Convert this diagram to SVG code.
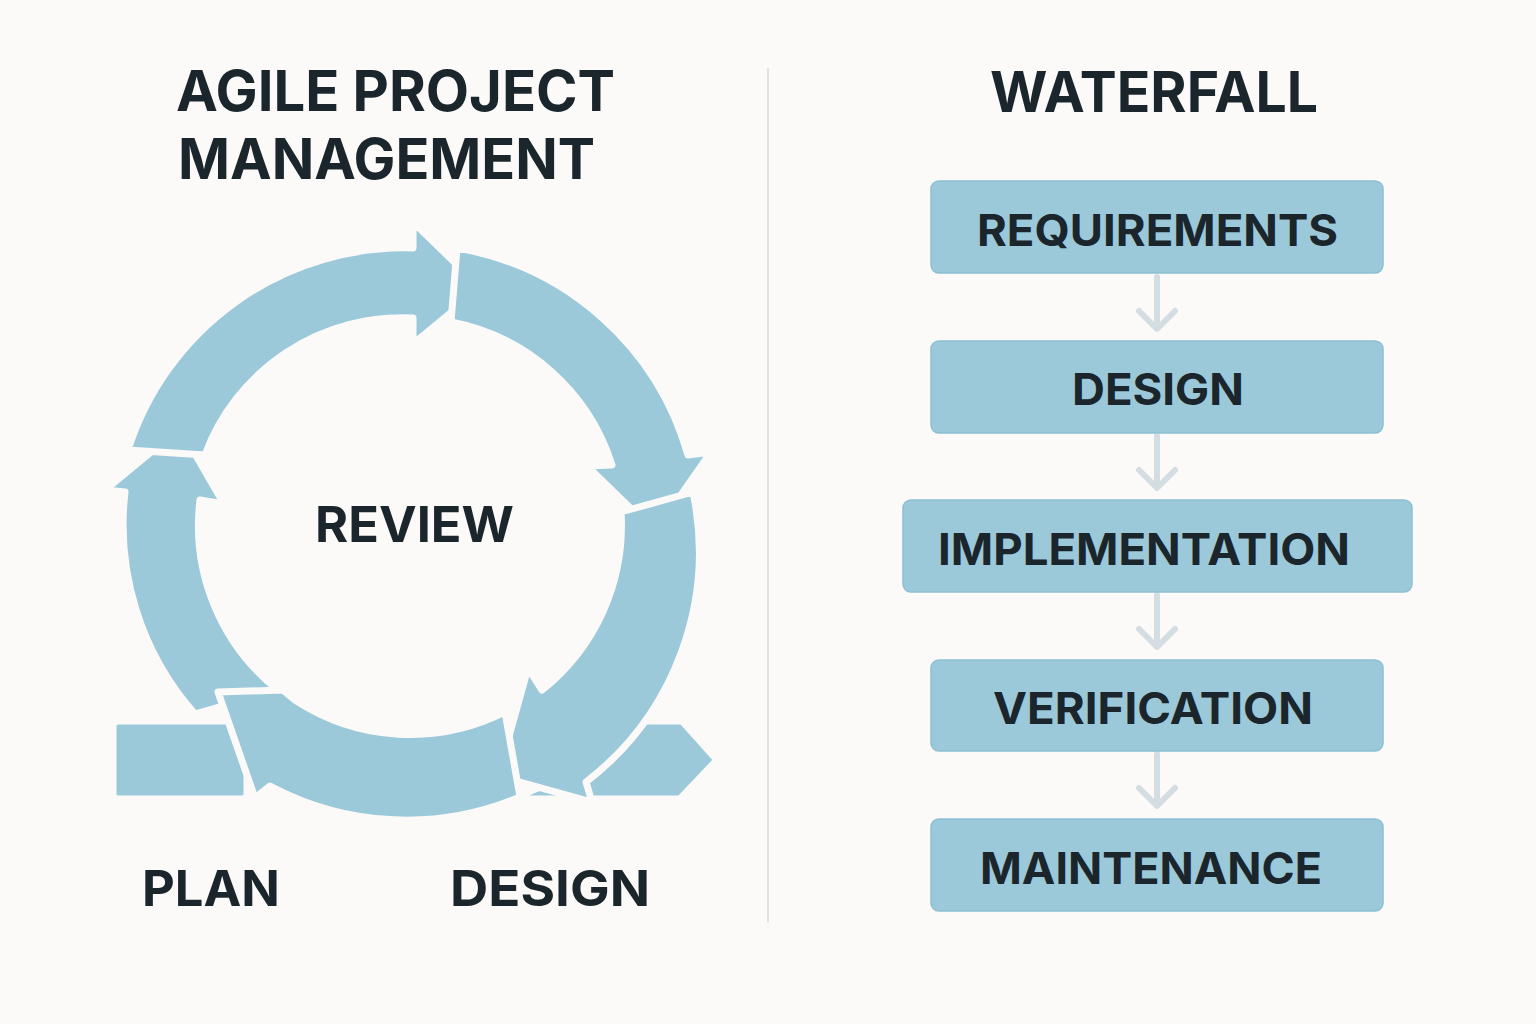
<svg xmlns="http://www.w3.org/2000/svg" width="1536" height="1024" viewBox="0 0 1536 1024">
<style>
.t{font-family:"Inter","Liberation Sans",sans-serif;font-weight:700;fill:#1b262c}
.a{fill:#9cc9da;stroke:#fbfaf8;stroke-width:7;stroke-linejoin:round}
.b{fill:#9cc9da;stroke:#8dbfd2;stroke-width:1.5}
.c{stroke:#d3dde2;stroke-width:6;fill:none;stroke-linecap:round;stroke-linejoin:round}
</style>
<rect width="1536" height="1024" fill="#fbfaf8"/>
<line x1="768" y1="68" x2="768" y2="922" stroke="#dde3e6" stroke-width="2"/>
<text class="t" x="176" y="111" font-size="56" textLength="439" lengthAdjust="spacingAndGlyphs">AGILE PROJECT</text>
<text class="t" x="178" y="179" font-size="56" textLength="417" lengthAdjust="spacingAndGlyphs">MANAGEMENT</text>
<text class="t" x="990" y="112" font-size="56" textLength="328" lengthAdjust="spacingAndGlyphs">WATERFALL</text>
<g id="agile-cycle">
<rect class="a" x="113" y="721" width="134" height="78" rx="5"/>
<path class="a" d="M512,799 L680,799 L717,760 L682,721 L640,721 L580,770 Z"/>
<path class="a" d="M195,714 A285,285 0 0 1 125,492 L105,490 L180,428 L224,504 L200,500 A210,210 0 0 0 278,690 Z"/>
<path class="a" d="M128,450 A290,290 0 0 1 413,248 L413,222 L481,288 L413,344 L413,318 A210,210 0 0 0 205,455 Z"/>
<path class="a" d="M457,248 A290,290 0 0 1 688,455 L711,452 L655,532 L587,466 L612,465 A210,210 0 0 0 451,322 Z"/>
<path class="a" d="M693,492 A290,290 0 0 1 586,782 L592,802 L498,776 L528,668 L542,690 A210,210 0 0 0 621,512 Z"/>
<path class="a" d="M505,712 A210,210 0 0 1 295,700 L283,690 L218,692 L255,798 L270,786 A290,290 0 0 0 520,797 Z"/>
</g>
<text class="t" x="315" y="542" font-size="50" textLength="199" lengthAdjust="spacingAndGlyphs">REVIEW</text>
<text class="t" x="142" y="906" font-size="50" textLength="138" lengthAdjust="spacingAndGlyphs">PLAN</text>
<text class="t" x="450" y="906" font-size="50" textLength="200" lengthAdjust="spacingAndGlyphs">DESIGN</text>
<g id="connectors">
<path class="c" d="M1157,277 V328 M1139,311 L1157,329 L1175,311"/>
<path class="c" d="M1157,436 V487 M1139,470 L1157,488 L1175,470"/>
<path class="c" d="M1157,595 V646 M1139,629 L1157,647 L1175,629"/>
<path class="c" d="M1157,754 V805 M1139,788 L1157,806 L1175,788"/>
</g>
<g id="requirements"><rect class="b" x="931" y="181" width="452" height="92" rx="8"/><text class="t" x="977" y="246" font-size="44" textLength="361" lengthAdjust="spacingAndGlyphs">REQUIREMENTS</text></g>
<g id="design"><rect class="b" x="931" y="341" width="452" height="92" rx="8"/><text class="t" x="1072" y="405" font-size="44" textLength="172" lengthAdjust="spacingAndGlyphs">DESIGN</text></g>
<g id="implementation"><rect class="b" x="903" y="500" width="509" height="92" rx="8"/><text class="t" x="938" y="565" font-size="44" textLength="412" lengthAdjust="spacingAndGlyphs">IMPLEMENTATION</text></g>
<g id="verification"><rect class="b" x="931" y="660" width="452" height="91" rx="8"/><text class="t" x="993" y="724" font-size="44" textLength="320" lengthAdjust="spacingAndGlyphs">VERIFICATION</text></g>
<g id="maintenance"><rect class="b" x="931" y="819" width="452" height="92" rx="8"/><text class="t" x="980" y="884" font-size="44" textLength="342" lengthAdjust="spacingAndGlyphs">MAINTENANCE</text></g>
</svg>
